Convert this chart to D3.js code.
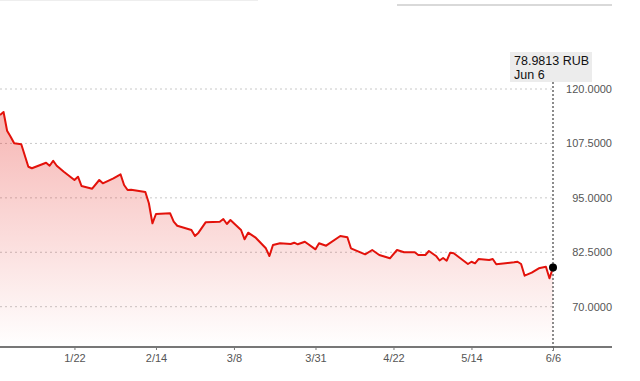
<!DOCTYPE html>
<html lang="en">
<head>
  <meta charset="UTF-8">
  <title>RUB chart</title>
  <script src="https://d3js.org/d3.v7.min.js"></script>
  <style>
    body { margin: 0; background: #fff; }
    svg { display: block; font-family: "Liberation Sans", Arial, sans-serif; }
  </style>
</head>
<body>
  <div id="chart"></div>

  <script>
    // data (month/day, year assumed non-leap)
    const dates = [
      "1/1", "1/2", "1/3", "1/4", "1/5", "1/7", "1/9", "1/10", "1/14", "1/15",
      "1/16", "1/17", "1/19", "1/22", "1/23", "1/24", "1/27", "1/29", "1/30", "2/2",
      "2/4", "2/5", "2/6", "2/7", "2/11", "2/12", "2/13", "2/14", "2/18", "2/19",
      "2/20", "2/24", "2/25", "2/26", "2/28", "3/4", "3/5", "3/6", "3/7", "3/10",
      "3/11", "3/12", "3/14", "3/17", "3/18", "3/19", "3/21", "3/24", "3/25", "3/26",
      "3/28", "3/31", "4/1", "4/3", "4/7", "4/9", "4/10", "4/14", "4/16", "4/18",
      "4/21", "4/23", "4/25", "4/28", "4/29", "5/1", "5/2", "5/4", "5/5", "5/6",
      "5/7", "5/8", "5/9", "5/13", "5/14", "5/15", "5/16", "5/19", "5/20", "5/21",
      "5/26", "5/27", "5/28", "5/29", "5/31", "6/2", "6/4", "6/5", "6/6"
    ];
    const values = [
      114.03, 114.72, 110.42, 109.04, 107.53, 107.30, 102.15, 101.79, 103.07, 102.38,
      103.53, 102.38, 101.01, 99.10, 99.86, 97.72, 97.10, 99.10, 98.34, 99.49,
      100.41, 97.95, 96.80, 96.87, 96.34, 93.75, 89.15, 91.29, 91.45, 89.52,
      88.60, 87.62, 86.24, 87.00, 89.38, 89.52, 90.14, 88.99, 89.91, 87.62,
      85.48, 87.00, 85.94, 83.41, 81.64, 84.17, 84.56, 84.40, 84.70, 84.33,
      84.93, 83.18, 84.56, 84.01, 86.24, 85.94, 83.41, 82.03, 83.02, 81.87,
      81.12, 83.02, 82.49, 82.49, 81.87, 81.87, 82.79, 81.65, 80.61, 81.20,
      80.56, 82.40, 82.26, 79.81, 80.33, 79.97, 80.95, 80.73, 80.95, 79.74,
      80.20, 80.33, 79.80, 77.12, 77.81, 78.82, 79.19, 76.52, 78.98
    ];
    const xTickLabels = ["1/22", "2/14", "3/8", "3/31", "4/22", "5/14", "6/6"];
    const yTicks = [70, 82.5, 95, 107.5, 120];
    const lastLabel = "78.9813 RUB";
    const lastDate = "Jun 6";

    const parse = d3.timeParse("%Y/%m/%d");
    const toDate = s => parse("2023/" + s);
    const data = dates.map((d, i) => ({ date: toDate(d), value: values[i] }));
    const last = data[data.length - 1];

    const width = 640, height = 381;
    const axisY = 347;

    const svg = d3.select("#chart").append("svg")
      .attr("width", width)
      .attr("height", height);

    // scales
    const x = d3.scaleTime()
      .domain([toDate("1/1"), toDate("6/6")])
      .range([0, 553]);
    const y = d3.scaleLinear()
      .domain([70, 120])
      .range([306.7, 89]);

    // top decoration lines
    svg.append("line").attr("x1", 0).attr("x2", 258).attr("y1", 0.5).attr("y2", 0.5)
      .attr("stroke", "#eee");
    svg.append("line").attr("x1", 397).attr("x2", 612).attr("y1", 5).attr("y2", 5)
      .attr("stroke", "#ccc").attr("stroke-width", 1.5);

    // gradient for area
    const grad = svg.append("defs").append("linearGradient")
      .attr("id", "fill")
      .attr("gradientUnits", "userSpaceOnUse")
      .attr("x1", 0).attr("x2", 0)
      .attr("y1", 105).attr("y2", axisY);
    grad.append("stop").attr("offset", 0).attr("stop-color", "#e3120b").attr("stop-opacity", 0.32);
    grad.append("stop").attr("offset", 1).attr("stop-color", "#e3120b").attr("stop-opacity", 0);

    // gridlines
    svg.append("g")
      .selectAll("line")
      .data(yTicks)
      .join("line")
      .attr("x1", 0)
      .attr("x2", x(last.date))
      .attr("y1", d => y(d))
      .attr("y2", d => y(d))
      .attr("stroke", "#c8c8c8")
      .attr("stroke-dasharray", "2,3");

    // y labels
    svg.append("g")
      .selectAll("text")
      .data(yTicks)
      .join("text")
      .attr("x", 612)
      .attr("y", d => y(d) + 4)
      .attr("text-anchor", "end")
      .attr("font-size", 11)
      .attr("fill", "#555")
      .text(d => d3.format(".4f")(d));

    // area + line
    const area = d3.area()
      .x(d => x(d.date))
      .y0(axisY)
      .y1(d => y(d.value));
    svg.append("path")
      .attr("d", area(data))
      .attr("fill", "url(#fill)");

    const line = d3.line()
      .x(d => x(d.date))
      .y(d => y(d.value));
    svg.append("path")
      .attr("d", line(data))
      .attr("fill", "none")
      .attr("stroke", "#e3120b")
      .attr("stroke-width", 2)
      .attr("stroke-linejoin", "round");

    // x axis
    const xAxis = d3.axisBottom(x)
      .tickValues(xTickLabels.map(toDate))
      .tickFormat(d3.timeFormat("%-m/%-d"))
      .tickSize(3)
      .tickPadding(4);
    const gx = svg.append("g")
      .attr("transform", `translate(0,${axisY})`)
      .call(xAxis);
    gx.select(".domain").remove();
    gx.selectAll(".tick line").attr("stroke", "#777");
    gx.selectAll(".tick text")
      .attr("font-family", "Liberation Sans, Arial, sans-serif")
      .attr("font-size", 11)
      .attr("fill", "#555");
    svg.append("line")
      .attr("x1", 0).attr("x2", 612)
      .attr("y1", axisY).attr("y2", axisY)
      .attr("stroke", "#777")
      .attr("stroke-width", 2);

    // crosshair at last point
    svg.append("line")
      .attr("x1", x(last.date)).attr("x2", x(last.date))
      .attr("y1", 82).attr("y2", axisY + 4)
      .attr("stroke", "#666")
      .attr("stroke-width", 1.5)
      .attr("stroke-dasharray", "2,2");

    svg.append("circle")
      .attr("cx", x(last.date))
      .attr("cy", y(last.value))
      .attr("r", 4)
      .attr("fill", "#000");

    // tooltip
    const tip = svg.append("g").attr("transform", "translate(510,52)");
    tip.append("rect")
      .attr("width", 82).attr("height", 30)
      .attr("fill", "#ececec");
    tip.append("text")
      .attr("x", 4).attr("y", 13)
      .attr("font-size", 12.5)
      .attr("fill", "#111")
      .text(lastLabel);
    tip.append("text")
      .attr("x", 4).attr("y", 27)
      .attr("font-size", 12.5)
      .attr("fill", "#111")
      .text(lastDate);
  </script>
</body>
</html>
